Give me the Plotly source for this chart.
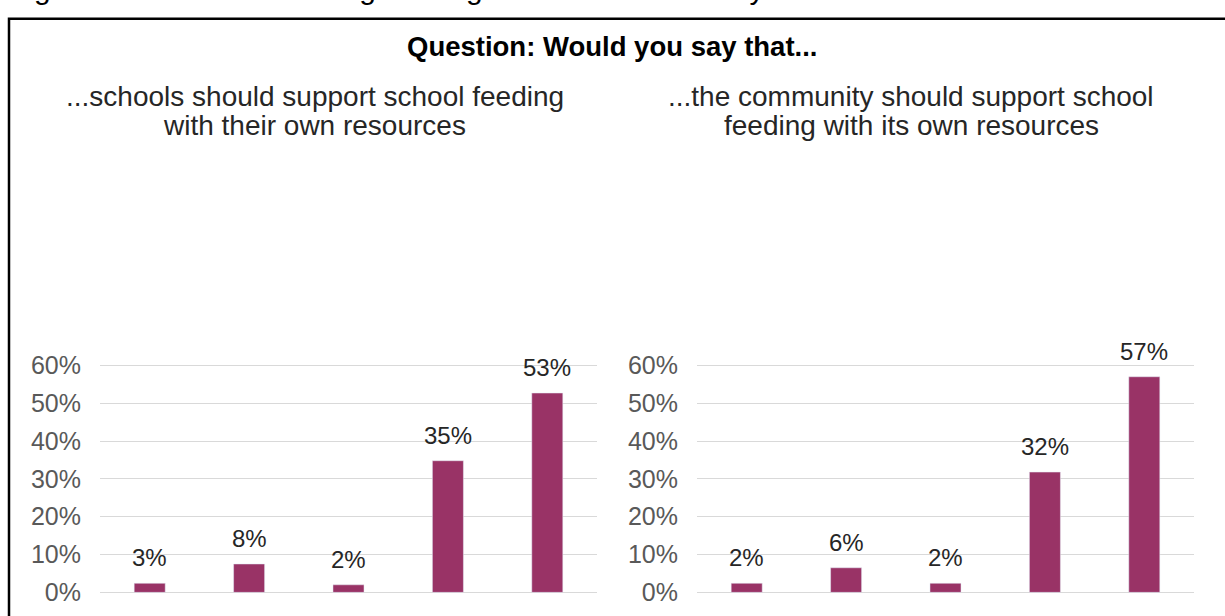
import plotly.graph_objects as go

# ---- data ----
categories = ["Strongly disagree", "Disagree", "Don't know", "Agree", "Strongly agree"]
schools_values = [0.024, 0.075, 0.020, 0.348, 0.527]
schools_labels = ["3%", "8%", "2%", "35%", "53%"]
community_values = [0.024, 0.065, 0.024, 0.318, 0.570]
community_labels = ["2%", "6%", "2%", "32%", "57%"]
y_ticks = [0, 0.1, 0.2, 0.3, 0.4, 0.5, 0.6]
y_ticktext = ["0%", "10%", "20%", "30%", "40%", "50%", "60%"]

figure_caption = "Figure 4.10: School feeding funding and local community"
question = "Question: Would you say that..."
left_title_lines = ["...schools should support school feeding", "with their own resources"]
right_title_lines = ["...the community should support school", "feeding with its own resources"]

W, H = 1225, 616
FONT = "Liberation Sans, Arial, sans-serif"
BAR = "#993366"

def px_x(p):
    return p / W

def px_y(p):
    return 1 - p / H

fig = go.Figure()
fig.add_trace(go.Bar(x=categories, y=schools_values, marker_color=BAR,
                     xaxis="x", yaxis="y", showlegend=False, hoverinfo="skip"))
fig.add_trace(go.Bar(x=categories, y=community_values, marker_color=BAR,
                     xaxis="x2", yaxis="y2", showlegend=False, hoverinfo="skip"))

# 0% at y=602px, 60% at y=369px
y0_px, y60_px = 602.0, 369.0
ppu = (y0_px - y60_px) / 0.6
ydom = [px_y(y0_px + 0.01 * ppu), px_y(y60_px - 0.02 * ppu)]
yaxis_common = dict(range=[-0.01, 0.62], tickvals=y_ticks, ticktext=y_ticktext,
                    showgrid=True, gridcolor="#d9d9d9", gridwidth=1, zeroline=False,
                    showline=False, ticks="", ticklabelstandoff=18,
                    ticklabeloverflow="allow",
                    tickfont=dict(family=FONT, size=25, color="#595959"), domain=ydom)
xaxis_common = dict(showticklabels=False, showgrid=False, zeroline=False,
                    showline=False, ticks="", range=[-0.5, 4.5])

fig.update_layout(
    width=W, height=H,
    margin=dict(l=0, r=0, t=0, b=0),
    paper_bgcolor="white", plot_bgcolor="white",
    bargap=0.688,
    xaxis=dict(domain=[px_x(100), px_x(597)], anchor="y", **xaxis_common),
    yaxis=dict(anchor="x", **yaxis_common),
    xaxis2=dict(domain=[px_x(697), px_x(1194)], anchor="y2", **xaxis_common),
    yaxis2=dict(anchor="x2", **yaxis_common),
    font=dict(family=FONT),
)

annotations = []
for cat, v, t in zip(categories, schools_values, schools_labels):
    annotations.append(dict(x=cat, y=v, xref="x", yref="y", text=t, showarrow=False,
                            yanchor="bottom", yshift=10,
                            font=dict(family=FONT, size=24, color="#262626")))
for cat, v, t in zip(categories, community_values, community_labels):
    annotations.append(dict(x=cat, y=v, xref="x2", yref="y2", text=t, showarrow=False,
                            yanchor="bottom", yshift=10,
                            font=dict(family=FONT, size=24, color="#262626")))

annotations.append(dict(x=px_x(7), y=1 + 18 / H, xref="paper", yref="paper",
                        xanchor="left", yanchor="middle", showarrow=False,
                        text=figure_caption, font=dict(family=FONT, size=30, color="#000000")))
annotations.append(dict(x=px_x(612), y=px_y(42), xref="paper", yref="paper",
                        xanchor="center", yanchor="middle", showarrow=False,
                        text="<b>" + question + "</b>",
                        font=dict(family=FONT, size=27.5, color="#000000")))
for cx, lines in ((315, left_title_lines), (911, right_title_lines)):
    for cy, line in zip((92.5, 122.5), lines):
        annotations.append(dict(x=px_x(cx), y=px_y(cy), xref="paper", yref="paper",
                                xanchor="center", yanchor="middle", showarrow=False,
                                text=line,
                                font=dict(family=FONT, size=28, color="#262626")))
fig.update_layout(annotations=annotations)

fig.add_shape(type="rect", xref="paper", yref="paper",
              x0=px_x(9), x1=px_x(1240), y0=px_y(640), y1=px_y(13),
              line=dict(color="black", width=2.5), fillcolor="rgba(0,0,0,0)", layer="above")

fig.write_html("out.html", config={"displayModeBar": False},
               post_script="document.body.style.margin='0';document.body.style.overflow='hidden';")
